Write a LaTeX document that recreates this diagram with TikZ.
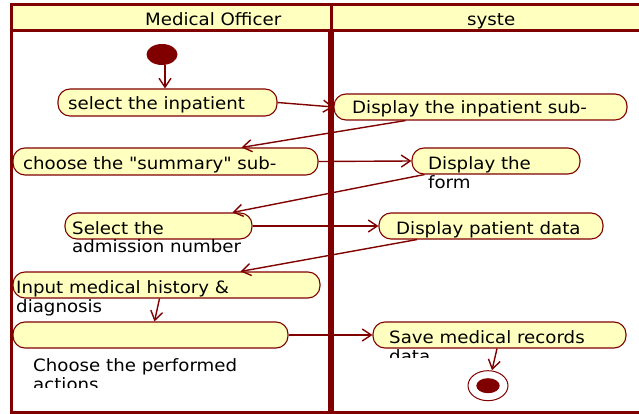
\documentclass[tikz,border=0pt]{standalone}
\usepackage{fontspec}
\setmainfont{DejaVu Sans}
\newfontfamily\diagfont[FakeStretch=1.07]{DejaVu Sans}
\usetikzlibrary{arrows.meta,calc,shapes.geometric}
\definecolor{umlred}{HTML}{800000}
\definecolor{umlfill}{HTML}{FFFFC0}

\begin{document}
\begin{tikzpicture}[x=1pt,y=-1pt,
  act/.style={draw=umlred, line width=1.1pt, fill=umlfill, rounded corners=12pt,
              inner sep=0pt, rectangle},
  lbl/.style={anchor=base west, inner sep=0pt,
              font=\diagfont\fontsize{17}{19}\selectfont, text=black},
  flow/.style={draw=umlred, line width=1.4pt,
               -{Straight Barb[length=9pt,width=12pt]}},
  lane/.style={draw=umlred, line width=3pt},
  startdot/.style={ellipse, fill=umlred, inner sep=0pt},
  endring/.style={ellipse, draw=umlred, line width=1pt, fill=white, inner sep=0pt}]

\useasboundingbox (0,0) rectangle (639,414);

% swimlane frame and header row
\fill[umlfill] (11.5,5) rectangle (660,30.5);
\draw[lane] (11.5,5) -- (660,5);
\draw[lane] (11.5,30.5) -- (660,30.5);
\draw[lane] (11.5,3.5) -- (11.5,412.3);
\draw[lane] (10,412.3) -- (660,412.3);
\draw[umlred, line width=2.7pt] (331.3,5) -- (331.3,30.5);
\draw[umlred, line width=6.5pt] (331,30.5) -- (331,413);

\node[lbl] (h1) at (145,26) {Medical Officer};
\node[lbl] (h2) at (467,26) {syste};

% initial and final states
\node[startdot, minimum width=31pt, minimum height=21pt] (start) at (162,54.5) {};
\node[endring, minimum width=40pt, minimum height=30pt] (fin) at (488,385.7) {};
\node[startdot, minimum width=23.4pt, minimum height=15pt] (fincore) at (fin.center) {};

% actions
\node[act, minimum width=219pt, minimum height=27pt] (a1) at (167.5,102.5) {};
\node[act, minimum width=293pt, minimum height=26pt] (b1) at (480.5,107) {};
\node[act, minimum width=305pt, minimum height=27pt] (a2) at (165.5,161.5) {};
\node[act, minimum width=168pt, minimum height=26pt] (b2) at (496,161) {};
\node[act, minimum width=187pt, minimum height=26pt] (a3) at (158.5,226) {};
\node[act, minimum width=224pt, minimum height=26pt] (b3) at (491,226) {};
\node[act, minimum width=307pt, minimum height=26pt] (a4) at (166.5,285) {};
\node[act, minimum width=275pt, minimum height=26pt] (a5) at (150.5,335) {};
\node[act, minimum width=253pt, minimum height=26pt] (b4) at (499.5,335) {};

% action texts
\node[lbl] (t1) at (68,110) {select the inpatient};
\node[lbl] (u1) at (352,114) {Display the inpatient sub-};
\node[lbl] (t2) at (23,169) {choose the "summary" sub-};
\node[lbl] (u2) at (428,170) {Display the};
\node[lbl] (u2b) at (428,189) {form};
\node[lbl] (t3) at (72,234) {Select the};
\node[lbl] (t3b) at (72,252.5) {admission number};
\node[lbl] (u3) at (396,234) {Display patient data};
\node[lbl] (t4) at (16,293) {Input medical history \&};
\node[lbl] (t4b) at (16,312) {diagnosis};
\node[lbl] (t5) at (33,371) {Choose the performed};
\begin{scope}
  \clip (20,375) rectangle (300,387);
  \node[lbl] (t5b) at (33,390) {actions};
\end{scope}
\node[lbl] (u4) at (389,343.5) {Save medical records};
\begin{scope}
  \clip (380,348) rectangle (480,357);
  \node[lbl] (u4b) at (389,362) {data};
\end{scope}

% control flows
\draw[flow] ([xshift=3pt]start.south) -- ([xshift=-2.5pt]a1.north);
\draw[flow] (a1.east) -- (b1.west);
\draw[flow] ([xshift=-75pt]b1.south) -- ([xshift=76pt]a2.north);
\draw[flow] (a2.east) -- (b2.west);
\draw[flow] ([xshift=13pt]b2.south west) -- ([xshift=74pt]a3.north);
\draw[flow] (a3.east) -- (b3.west);
\draw[flow] ([xshift=-74pt]b3.south) -- ([xshift=74pt]a4.north);
\draw[flow] ([xshift=-7pt]a4.south) -- ([xshift=4pt]a5.north);
\draw[flow] (a5.east) -- (b4.west);
\draw[flow] ([xshift=-2.5pt]b4.south) -- ([xshift=4pt]fin.north);

\end{tikzpicture}
\end{document}
